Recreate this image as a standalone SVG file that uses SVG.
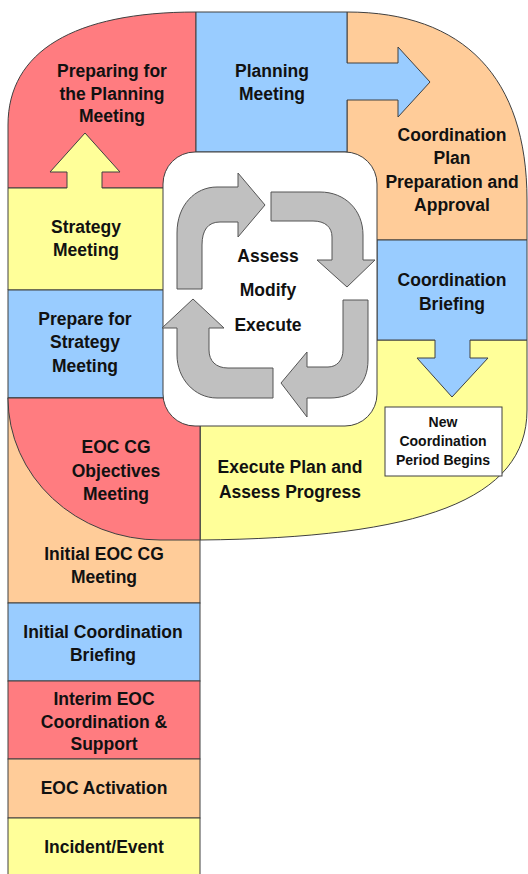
<svg xmlns="http://www.w3.org/2000/svg" width="528" height="874" viewBox="0 0 528 874">
  <style>
    .reg { stroke: #404040; stroke-width: 1; stroke-linejoin: miter; }
    .red { fill: #ff7c80; }
    .blue { fill: #99ccff; }
    .yel { fill: #ffff99; }
    .org { fill: #ffcc99; }
    .cycle { fill: #c0c0c0; stroke: #555555; stroke-width: 1; }
    .lbl { font-family: "Liberation Sans", Arial, sans-serif; font-weight: bold; font-size: 17.5px; fill: #111111; text-anchor: middle; }
    .sm { font-size: 14px; }
  </style>
  <rect width="528" height="874" fill="#ffffff"/>

  <!-- Upper loop: coordination cycle stages -->
  <g id="preparing-planning-meeting">
    <path class="reg red" d="M8,188 V125 C8,51.5 73.8,12 196,12 V188 Z"/>
    <text class="lbl" x="112" y="77">Preparing for</text>
    <text class="lbl" x="112" y="100">the Planning</text>
    <text class="lbl" x="112" y="122">Meeting</text>
  </g>

  <g id="strategy-meeting">
    <path class="reg yel" d="M8,188 H67 V172 H50 L85,133 L120,172 H102 V188 H196 V290 H8 Z"/>
    <text class="lbl" x="86" y="233">Strategy</text>
    <text class="lbl" x="86" y="256">Meeting</text>
  </g>

  <g id="prepare-strategy-meeting">
    <rect class="reg blue" x="8" y="290" width="160" height="108"/>
    <text class="lbl" x="85" y="325">Prepare for</text>
    <text class="lbl" x="85" y="348">Strategy</text>
    <text class="lbl" x="85" y="372">Meeting</text>
  </g>

  <g id="coordination-plan">
    <path class="reg org" d="M347,12 C464,12 527,77.8 527,200 V240 H347 Z"/>
    <text class="lbl" x="452" y="141">Coordination</text>
    <text class="lbl" x="452" y="164">Plan</text>
    <text class="lbl" x="452" y="188">Preparation and</text>
    <text class="lbl" x="452" y="211">Approval</text>
  </g>

  <g id="planning-meeting">
    <path class="reg blue" d="M196,12 H347 V63 H398 V47 L430,82 L398,117 V100 H347 V152 H196 Z"/>
    <text class="lbl" x="272" y="77">Planning</text>
    <text class="lbl" x="272" y="100">Meeting</text>
  </g>

  <g id="execute-plan">
    <path class="reg yel" d="M200,340 H527 V410 C527,500 420,538 200,540 Z"/>
    <text class="lbl" x="290" y="473">Execute Plan and</text>
    <text class="lbl" x="290" y="498">Assess Progress</text>
  </g>

  <g id="coordination-briefing">
    <path class="reg blue" d="M377,240 H527 V340 H470 V358 H488 L452,397 L417,358 H435 V340 H377 Z"/>
    <text class="lbl" x="452" y="286">Coordination</text>
    <text class="lbl" x="452" y="310">Briefing</text>
  </g>

  <g id="new-coordination-period">
    <rect x="385" y="407" width="117" height="69" fill="#ffffff" stroke="#404040" stroke-width="1"/>
    <text class="lbl sm" x="443" y="427">New</text>
    <text class="lbl sm" x="443" y="446">Coordination</text>
    <text class="lbl sm" x="443" y="465">Period Begins</text>
  </g>

  <!-- Lower column: start-up stages -->
  <g id="initial-eoc-cg-meeting">
    <rect class="reg org" x="8" y="398" width="192" height="205"/>
    <text class="lbl" x="104" y="560">Initial EOC CG</text>
    <text class="lbl" x="104" y="583">Meeting</text>
  </g>

  <g id="eoc-cg-objectives">
    <path class="reg red" d="M8,398 A152,142 0 0 0 160,540 H200 V398 Z"/>
    <text class="lbl" x="116" y="453">EOC CG</text>
    <text class="lbl" x="116" y="477">Objectives</text>
    <text class="lbl" x="116" y="500">Meeting</text>
  </g>

  <g id="initial-coordination-briefing">
    <rect class="reg blue" x="8" y="603" width="192" height="78"/>
    <text class="lbl" x="103" y="638">Initial Coordination</text>
    <text class="lbl" x="103" y="661">Briefing</text>
  </g>

  <g id="interim-eoc-coordination">
    <rect class="reg red" x="8" y="681" width="192" height="78"/>
    <text class="lbl" x="104" y="705">Interim EOC</text>
    <text class="lbl" x="104" y="728">Coordination &amp;</text>
    <text class="lbl" x="104" y="750">Support</text>
  </g>

  <g id="eoc-activation">
    <rect class="reg org" x="8" y="759" width="192" height="59"/>
    <text class="lbl" x="104" y="794">EOC Activation</text>
  </g>

  <g id="incident-event">
    <rect class="reg yel" x="8" y="818" width="192" height="62"/>
    <text class="lbl" x="104" y="853">Incident/Event</text>
  </g>

  <!-- Central assess / modify / execute cycle -->
  <g id="cycle-panel">
    <rect x="163" y="152" width="214" height="274" rx="32" ry="32" fill="#ffffff" stroke="#404040" stroke-width="1"/>
    <text class="lbl" x="268" y="262">Assess</text>
    <text class="lbl" x="268" y="296">Modify</text>
    <text class="lbl" x="268" y="331">Execute</text>
  </g>

  <g id="cycle-arrows">
    <path class="cycle" d="M177,289 V233 C177,205 195,187 217,187 H238 V173 L265,205 L238,237 V222 H220 C208,222 202,230 202,245 V289 Z"/>
    <path class="cycle" d="M271,192 H320 C345,192 363,210 363,235 V260 H375 L347,287 L317,260 H332 V237 C332,227 325,221 313,221 H271 Z"/>
    <path class="cycle" d="M343,300 H368 V360 C368,385 352,398 330,398 H307 V417 L281,383 L307,352 V367 H328 C337,367 343,360 343,350 Z"/>
    <path class="cycle" d="M273,368 V398 H217 C194,398 177,378 177,355 V328 H162 L193,299 L224,328 H209 V350 C209,361 216,368 228,368 Z"/>
  </g>
</svg>
